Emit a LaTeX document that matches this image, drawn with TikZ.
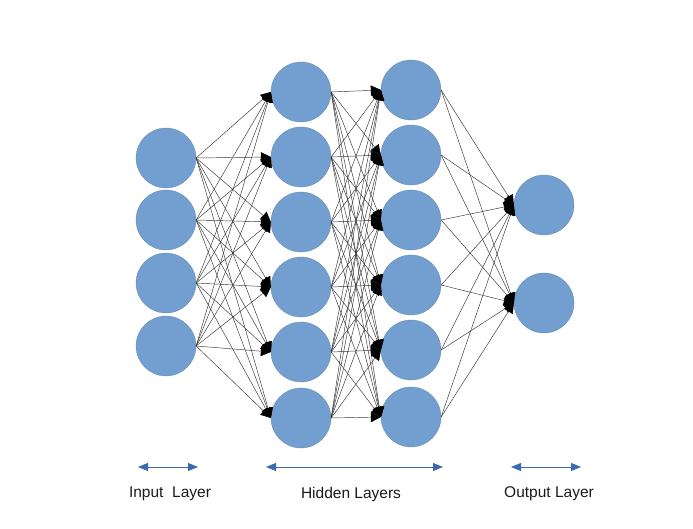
\documentclass[tikz,border=0pt]{standalone}
\usepackage{fontspec}
\setmainfont{Liberation Sans}
\usepackage{tikz}
\usetikzlibrary{arrows.meta}
\definecolor{neuronblue}{HTML}{729FCF}
\definecolor{spanblue}{HTML}{3A6BAE}
\definecolor{ink}{HTML}{1A1A1A}
\tikzset{
  neuron/.style={
    circle, fill=neuronblue, draw=neuronblue!85!black, line width=0.3pt,
    minimum size=60pt, inner sep=0pt
  },
  synapse/.style={
    -{Triangle[length=10pt,width=10pt,fill=black,color=black]},
    line width=0.45pt, draw=black!80
  },
  spanarrow/.style={
    {Triangle[length=10pt,width=8pt]}-{Triangle[length=10pt,width=8pt]},
    line width=0.8pt, color=spanblue
  },
  layerlabel/.style={
    font=\fontsize{15.5}{18}\selectfont, color=ink
  },
}

\begin{document}
\begin{tikzpicture}[x=1pt,y=-1pt]
  \useasboundingbox (0,0) rectangle (693,529);

  % Layers of neurons
  \foreach \y [count=\i] in {158,220,283,346}
    \node[neuron] (in\i) at (166,\y) {};
  \foreach \y [count=\i] in {92,157,222,287,352,418}
    \node[neuron] (ha\i) at (301,\y) {};
  \foreach \y [count=\i] in {90,155,220,285,350,417}
    \node[neuron] (hb\i) at (411,\y) {};
  \foreach \y [count=\i] in {205,303}
    \node[neuron] (out\i) at (544,\y) {};

  % Full connections between layers
  \foreach \i in {1,...,4}
    \foreach \j in {1,...,6}
      \draw[synapse] (in\i.east) -- (ha\j.west);
  \foreach \i in {1,...,6}
    \foreach \j in {1,...,6}
      \draw[synapse] (ha\i.east) -- (hb\j.west);
  \foreach \i in {1,...,6}
    \foreach \j in {1,2}
      \draw[synapse] (hb\i.east) -- (out\j.west);

  % Layer spans and names
  \coordinate (inL) at (138,467);
  \coordinate (inR) at (198,467);
  \coordinate (hidL) at (266,467);
  \coordinate (hidR) at (443,467);
  \coordinate (outL) at (511,467);
  \coordinate (outR) at (581,467);
  \draw[spanarrow] (inL) -- (inR);
  \draw[spanarrow] (hidL) -- (hidR);
  \draw[spanarrow] (outL) -- (outR);

  \node[layerlabel] (inlabel) at (170,494) {Input\ \ Layer};
  \node[layerlabel] (hidlabel) at (351,494) {Hidden Layers};
  \node[layerlabel] (outlabel) at (549,494) {Output Layer};
\end{tikzpicture}
\end{document}
